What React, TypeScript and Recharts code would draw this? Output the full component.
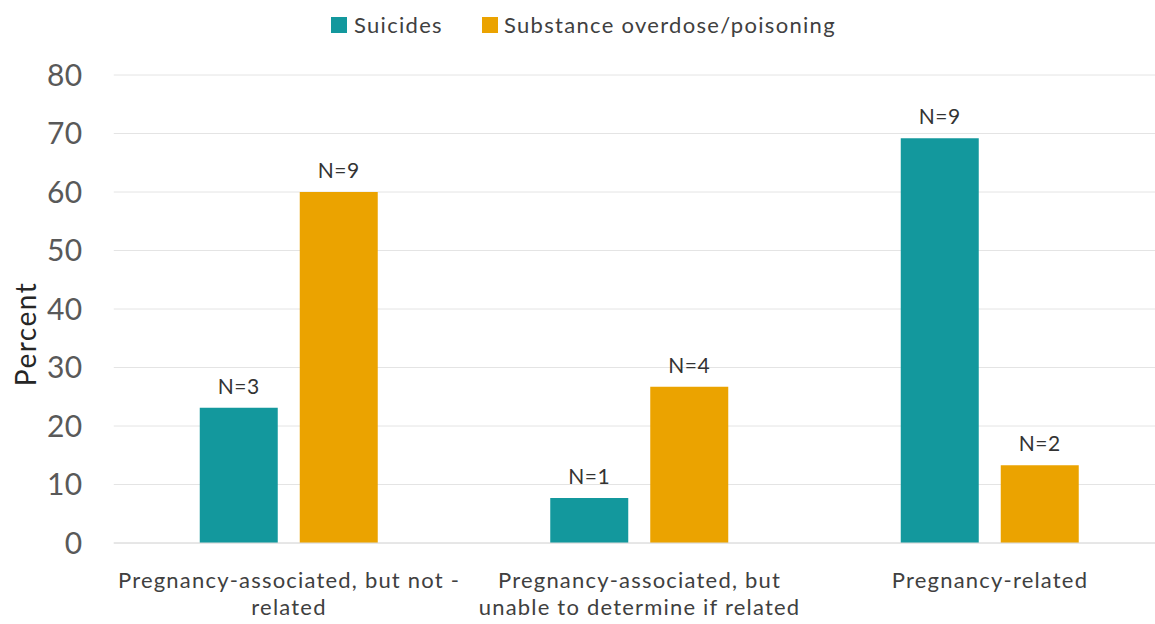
import React from 'react';
import { BarChart, Bar, XAxis, YAxis, CartesianGrid, Legend, LabelList, Label } from 'recharts';

const categories = [
  'Pregnancy-associated, but not -\nrelated',
  'Pregnancy-associated, but\nunable to determine if related',
  'Pregnancy-related',
];
const suicides = [23.1, 7.7, 69.2];
const substance = [60.0, 26.7, 13.3];
const suicideN = ['N=3', 'N=1', 'N=9'];
const substanceN = ['N=9', 'N=4', 'N=2'];
const yTicks = [0, 10, 20, 30, 40, 50, 60, 70, 80];
const seriesNames = ['Suicides', 'Substance overdose/poisoning'];
const yLabel = 'Percent';

const TEAL = '#13989D';
const ORANGE = '#EBA300';
const FONT = 'Lato, "Open Sans", sans-serif';

const data = categories.map((c, i) => ({
  cat: c,
  suicides: suicides[i],
  substance: substance[i],
  sN: suicideN[i],
  oN: substanceN[i],
}));

const CatTick = (props: any) => {
  const { x, y, payload } = props;
  const lines = String(payload.value).split('\n');
  return (
    <text x={x} y={y + 37} textAnchor="middle" fill="#404040" fontSize={22} letterSpacing={1.2} fontFamily={FONT}>
      {lines.map((l, i) => (
        <tspan key={i} x={x} dy={i === 0 ? 0 : 27}>{l}</tspan>
      ))}
    </text>
  );
};

const YLabelContent = (props: any) => {
  const vb = props.viewBox || {};
  const cy = (vb.y ?? 75) + (vb.height ?? 468) / 2 + 25;
  return (
    <text
      transform={`translate(25, ${cy}) rotate(-90)`}
      textAnchor="middle"
      dominantBaseline="central"
      fill="#262626"
      fontSize={28}
      letterSpacing={1.5}
      fontFamily={FONT}
    >
      {yLabel}
    </text>
  );
};

const LegendContent = () => (
  <div style={{ position: 'relative', width: 1155, height: 50, fontFamily: FONT, fontSize: 22, letterSpacing: 1.3, color: '#404040' }}>
    <div style={{ position: 'absolute', left: 331, top: 17, width: 16, height: 16, background: TEAL }} />
    <div style={{ position: 'absolute', left: 354, top: 10, lineHeight: '30px', whiteSpace: 'nowrap' }}>{seriesNames[0]}</div>
    <div style={{ position: 'absolute', left: 482, top: 17, width: 16, height: 16, background: ORANGE }} />
    <div style={{ position: 'absolute', left: 504, top: 10, lineHeight: '30px', whiteSpace: 'nowrap' }}>{seriesNames[1]}</div>
  </div>
);

export default function App() {
  return (
    <div style={{ position: 'fixed', left: 0, top: 0, width: 1155, height: 624, overflow: 'hidden', background: '#fff' }}>
      <BarChart
        width={1170}
        height={624}
        data={data}
        margin={{ top: 75, right: 4.75, left: 0, bottom: 0 }}
        barGap={22}
        barSize={78}
      >
        <CartesianGrid vertical={false} stroke="#e4e4e4" />
        <XAxis
          dataKey="cat"
          height={81}
          tick={<CatTick />}
          tickLine={false}
          axisLine={{ stroke: '#dcdcdc' }}
          interval={0}
        />
        <YAxis
          width={113.75}
          domain={[0, 80]}
          ticks={yTicks}
          tickLine={false}
          axisLine={false}
          tickMargin={25}
          tick={{ fill: '#595959', fontSize: 30, fontFamily: FONT, letterSpacing: 0.5 }}
        >
          <Label content={<YLabelContent />} />
        </YAxis>
        <Legend verticalAlign="middle" align="center" layout="horizontal" content={<LegendContent />}
          wrapperStyle={{ top: 0, left: 0, width: 1155, height: 50 }} />
        <Bar dataKey="suicides" name={seriesNames[0]} fill={TEAL} isAnimationActive={false}>
          <LabelList dataKey="sN" position="top" offset={14} fill="#333333" fontSize={21} letterSpacing={0.6} fontFamily={FONT} />
        </Bar>
        <Bar dataKey="substance" name={seriesNames[1]} fill={ORANGE} isAnimationActive={false}>
          <LabelList dataKey="oN" position="top" offset={14} fill="#333333" fontSize={21} letterSpacing={0.6} fontFamily={FONT} />
        </Bar>
      </BarChart>
    </div>
  );
}
